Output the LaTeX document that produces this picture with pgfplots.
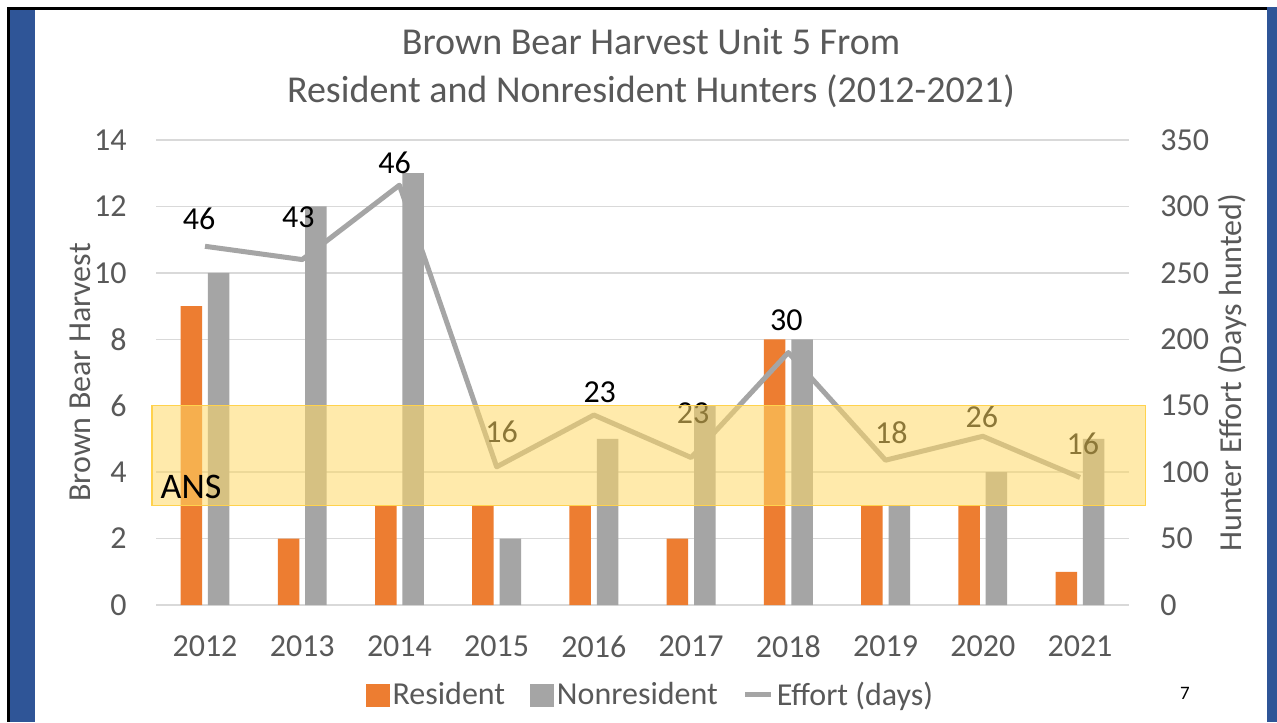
\documentclass[border=0pt]{standalone}
\usepackage{fontspec}
\setmainfont{Carlito}
\usepackage{pgfplots}
\pgfplotsset{compat=1.18}
\definecolor{myorange}{HTML}{ED7D31}
\definecolor{mygray}{HTML}{A5A5A5}
\definecolor{gridgray}{HTML}{D9D9D9}
\definecolor{txtgray}{HTML}{595959}
\definecolor{slideblue}{HTML}{2F5597}
\definecolor{bandfill}{HTML}{FFD966}
\definecolor{banddraw}{HTML}{FFD24D}
\begin{document}
\begin{tikzpicture}[x=1pt,y=1pt]
\useasboundingbox (0,0) rectangle (638.5,361);
\fill[white] (0,0) rectangle (638.5,361);
\fill[black] (3.5,0) rectangle (5,357.5);
\fill[black] (3.5,356) rectangle (633.5,357.5);
\fill[slideblue] (5,0) rectangle (17.5,356);
\fill[slideblue] (633.5,0) rectangle (638.5,357.5);
\node[align=center, text=txtgray, font=\fontsize{19}{24}\selectfont] at (325.5,327)
  {Brown Bear Harvest Unit 5 From\\Resident and Nonresident Hunters (2012-2021)};
\node[font=\fontsize{9.5}{11}\selectfont] at (592.5,14.5) {7};

\pgfplotsset{common/.style={
  at={(78.2pt,58.5pt)}, anchor=south west, scale only axis,
  width=486.1pt, height=232.5pt, xmin=-0.5, xmax=9.5,
  major tick length=0pt, axis line style={draw=none},
  tick label style={font=\fontsize{16}{19}\selectfont, text=txtgray},
  label style={font=\fontsize{16}{19}\selectfont, text=txtgray},
  /pgf/number format/assume math mode=true,
}}

\begin{axis}[common,
  ymin=0, ymax=14, ytick={0,2,...,14},
  xtick={0,...,9}, xticklabels={2012,2013,2014,2015,2016,2017,2018,2019,2020,2021},
  xticklabel style={inner ysep=0pt, anchor=north, yshift=-15pt},
  yticklabel style={inner xsep=0pt, anchor=east, xshift=-14.7pt},
  ymajorgrids, grid style={draw=gridgray, line width=0.75pt},
  ylabel={Brown Bear Harvest},
  ylabel style={at={(axis description cs:-0.0786,0.5)}, anchor=center},
]
\addplot[ybar, bar width=10.75pt, bar shift=-6.85pt, fill=myorange, draw=none]
  coordinates {(0,9) (1,2) (2,3) (3,3) (4,3) (5,2) (6,8) (7,3) (8,3) (9,1)};
\addplot[ybar, bar width=10.75pt, bar shift=6.85pt, fill=mygray, draw=none]
  coordinates {(0,10) (1,12) (2,13) (3,2) (4,5) (5,6) (6,8) (7,3) (8,4) (9,5)};
\end{axis}

\begin{axis}[common,
  ymin=0, ymax=350, ytick={0,50,...,350},
  axis x line=none, axis y line*=right,
  yticklabel style={inner xsep=0pt, anchor=west, xshift=15.7pt},
  ylabel={Hunter Effort (Days hunted)},
  ylabel style={at={(axis description cs:1.1063,0.5)}, anchor=center, rotate=0},
  clip=false,
  legend columns=3,
  legend style={draw=none, fill=none, at={(axis description cs:0.5087,-0.1935)}, anchor=center,
    font=\fontsize{16}{19}\selectfont, text=txtgray,
    nodes={inner xsep=1.5pt, inner ysep=0pt},
    /tikz/every even column/.append style={column sep=11pt}},
  legend cell align=left,
]
\addlegendimage{legend image code/.code={\fill[myorange] (0pt,-5.5pt) rectangle (11.5pt,5.5pt);}}
\addlegendentry{Resident}
\addlegendimage{legend image code/.code={\fill[mygray] (0pt,-5.5pt) rectangle (11.5pt,5.5pt);}}
\addlegendentry{Nonresident}
\addplot[mygray, line width=2.5pt, line join=round, mark=none,
  legend image code/.code={\draw[mygray, line width=2.5pt] (0pt,0pt) -- (13pt,0pt);}]
  coordinates {(0,270) (1,260) (2,316) (3,104) (4,143) (5,111) (6,190) (7,109) (8,127) (9,96)};
\addlegendentry{Effort (days)}
\addplot[draw=none, mark=none, forget plot, point meta=explicit symbolic,
  nodes near coords,
  nodes near coords style={anchor=center, draw=none, fill=none, text=black, inner sep=0pt,
    font=\fontsize{16}{19}\selectfont}]
  coordinates {(-0.06,291)[46] (0.96,292)[43] (1.95,333)[46] (3.05,130)[16] (4.06,160)[23]
               (5.02,144.5)[23] (5.98,214.5)[30] (7.06,130)[18] (7.99,141.5)[26] (9.03,121)[16]};
\end{axis}

\begin{axis}[common,
  ymin=0, ymax=350, hide axis, clip=false]
\addplot[draw=none, mark=none, forget plot] coordinates {(0,0) (9,0)};
\fill[bandfill, opacity=0.55] (axis cs:-0.545,75) rectangle (axis cs:9.67,150);
\draw[banddraw, line width=0.6pt] (axis cs:-0.545,75) rectangle (axis cs:9.67,150);
\node[anchor=base west, inner sep=0pt, text=black, font=\fontsize{18}{20}\selectfont]
  at (axis cs:-0.46,80.5) {ANS};
\end{axis}
\end{tikzpicture}
\end{document}
